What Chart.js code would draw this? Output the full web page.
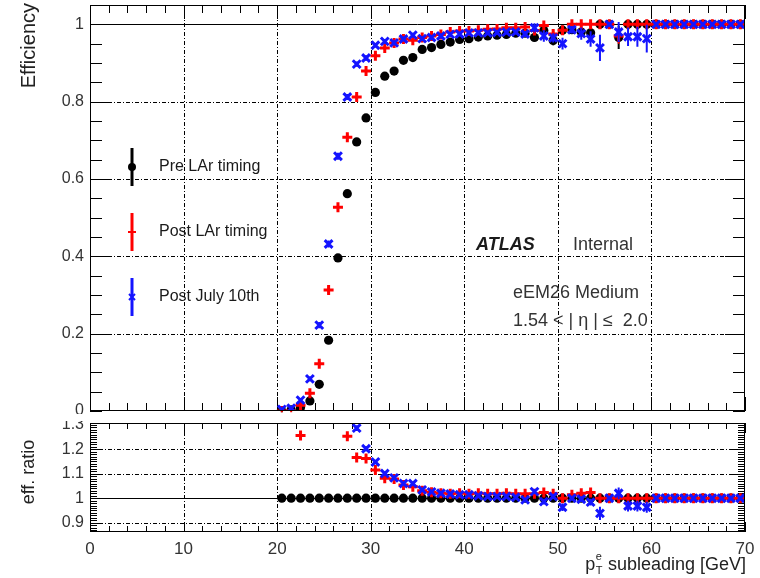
<!DOCTYPE html>
<html><head><meta charset="utf-8">
<script src="https://cdn.jsdelivr.net/npm/chart.js@4.4.0/dist/chart.umd.min.js"></script>
<style>
html,body{margin:0;padding:0;background:#fff;}
#wrap{position:relative;width:760px;height:578px;overflow:hidden;background:#fff;}
#top{position:absolute;left:0;top:0;}
#bot{position:absolute;left:0;top:421px;}
</style></head><body>
<div id="wrap"><canvas id="top" width="760" height="414" style="width:760px;height:414px"></canvas><canvas id="bot" width="760" height="157" style="width:760px;height:157px"></canvas></div>
<script>
// ---------- DATA ----------
const binCenters = [20.5,21.5,22.5,23.5,24.5,25.5,26.5,27.5,28.5,29.5,
  30.5,31.5,32.5,33.5,34.5,35.5,36.5,37.5,38.5,39.5,
  40.5,41.5,42.5,43.5,44.5,45.5,46.5,47.5,48.5,49.5,
  50.5,51.5,52.5,53.5,54.5,55.5,56.5,57.5,58.5,59.5,
  60.5,61.5,62.5,63.5,64.5,65.5,66.5,67.5,68.5,69.5];
const seriesNames = ["Pre LAr timing", "Post LAr timing", "Post July 10th"];

const effPre = [0.000,0.003,0.009,0.026,0.069,0.183,0.396,0.562,0.696,0.758,
  0.824,0.866,0.879,0.907,0.914,0.935,0.940,0.948,0.954,0.961,
  0.963,0.967,0.970,0.972,0.974,0.977,0.977,0.966,0.984,0.958,
  0.985,0.986,0.980,0.978,1.000,1.000,0.966,1.000,1.000,1.000,
  1.000,1.000,1.000,1.000,1.000,1.000,1.000,1.000,1.000,1.000];
const effPostLAr = [0.000,0.000,0.015,0.046,0.122,0.313,0.527,0.708,0.812,0.879,
  0.919,0.939,0.952,0.962,0.959,0.966,0.970,0.974,0.980,0.983,
  0.983,0.985,0.987,0.988,0.991,0.991,0.993,0.984,0.997,0.975,
  0.985,1.000,1.000,1.000,1.000,1.000,0.970,1.000,1.000,1.000,
  1.000,1.000,1.000,1.000,1.000,1.000,1.000,1.000,1.000,1.000];
const effPostJuly = [0.004,0.007,0.028,0.083,0.222,0.432,0.659,0.812,0.897,0.913,
  0.946,0.956,0.952,0.962,0.972,0.963,0.966,0.970,0.974,0.975,
  0.978,0.978,0.978,0.979,0.980,0.980,0.975,0.991,0.970,0.965,
  0.950,0.986,0.976,0.962,0.939,1.000,0.980,0.968,0.968,0.963,
  1.000,1.000,1.000,1.000,1.000,1.000,1.000,1.000,1.000,1.000];

const errPre = [0.003,0.003,0.004,0.005,0.006,0.008,0.009,0.009,0.009,0.008,
  0.007,0.007,0.007,0.006,0.006,0.006,0.006,0.006,0.006,0.006,
  0.006,0.006,0.006,0.006,0.006,0.006,0.006,0.010,0.008,0.012,
  0.008,0.008,0.008,0.010,0.006,0.006,0.030,0.006,0.006,0.006,
  0.004,0.004,0.004,0.004,0.004,0.004,0.004,0.004,0.004,0.004];
const errPostLAr = [0.003,0.003,0.004,0.005,0.007,0.009,0.009,0.009,0.008,0.007,
  0.006,0.006,0.006,0.006,0.006,0.006,0.006,0.006,0.006,0.006,
  0.006,0.006,0.006,0.006,0.006,0.006,0.006,0.008,0.006,0.010,
  0.010,0.006,0.006,0.006,0.006,0.006,0.020,0.006,0.006,0.006,
  0.004,0.004,0.004,0.004,0.004,0.004,0.004,0.004,0.004,0.004];
const errPostJuly = [0.003,0.003,0.004,0.006,0.008,0.009,0.009,0.008,0.007,0.007,
  0.006,0.006,0.006,0.006,0.006,0.006,0.006,0.006,0.006,0.006,
  0.006,0.006,0.006,0.006,0.006,0.006,0.008,0.012,0.015,0.012,
  0.015,0.010,0.016,0.020,0.034,0.006,0.026,0.024,0.026,0.036,
  0.004,0.004,0.004,0.004,0.004,0.004,0.004,0.004,0.004,0.004];

const ratioPre = [1,1,1,1,1,1,1,1,1,1, 1,1,1,1,1,1,1,1,1,1,
  1,1,1,1,1,1,1,1,1,1, 1,1,1,1,1,1,1,1,1,1, 1,1,1,1,1,1,1,1,1,1];
const ratioPostLAr = [null,null,1.256,null,null,null,null,1.253,1.166,1.162,
  1.115,1.081,1.078,1.054,1.047,1.030,1.024,1.020,1.018,1.020,
  1.018,1.020,1.018,1.018,1.020,1.018,1.018,1.018,1.023,1.018,
  1.000,1.014,1.020,1.023,1.000,1.000,1.000,1.000,1.000,1.000,
  1.000,1.000,1.000,1.000,1.000,1.000,1.000,1.000,1.000,1.000];
const ratioPostJuly = [null,null,null,null,null,null,null,null,1.286,1.202,
  1.148,1.101,1.083,1.060,1.060,1.034,1.026,1.020,1.017,1.014,
  1.014,1.010,1.007,1.007,1.007,1.004,0.993,1.027,0.986,1.007,
  0.963,1.000,0.996,0.984,0.938,1.000,1.020,0.968,0.968,0.963,
  1.000,1.000,1.000,1.000,1.000,1.000,1.000,1.000,1.000,1.000];
const ratioErrPre = [0,0,0,0,0,0,0,0,0,0, 0,0,0,0,0,0,0,0,0,0,
  0,0,0,0,0,0,0,0,0,0, 0,0,0,0,0,0,0,0,0,0, 0,0,0,0,0,0,0,0,0,0];
const ratioErrPostLAr = [0,0,0.012,0,0,0,0,0.012,0.010,0.010,
  0.008,0.007,0.007,0.006,0.006,0.005,0.005,0.005,0.005,0.005,
  0.005,0.005,0.005,0.005,0.005,0.005,0.005,0.006,0.006,0.008,
  0.008,0.006,0.006,0.006,0.006,0.006,0.010,0.006,0.006,0.006,
  0.004,0.004,0.004,0.004,0.004,0.004,0.004,0.004,0.004,0.004];
const ratioErrPostJuly = [0,0,0,0,0,0,0,0,0.012,0.010,
  0.008,0.007,0.007,0.006,0.006,0.005,0.005,0.005,0.005,0.005,
  0.005,0.005,0.005,0.005,0.005,0.005,0.008,0.010,0.012,0.010,
  0.015,0.008,0.012,0.014,0.027,0.006,0.024,0.022,0.022,0.022,
  0.004,0.004,0.004,0.004,0.004,0.004,0.004,0.004,0.004,0.004];

const xTicks = [0,10,20,30,40,50,60,70];
const effTicks = [0,0.2,0.4,0.6,0.8,1];
const ratioTicks = [0.9,1,1.1,1.2,1.3];

// ---------- STYLE ----------
const FONT = "'Liberation Sans', Arial, Helvetica, sans-serif";
const COL = ['#000000', '#ff0000', '#1414ff'];
const STYLES = [
  {pointStyle:'circle', pointRadius:4.6, borderWidth:0},
  {pointStyle:'cross', pointRadius:5, borderWidth:3},
  {pointStyle:'crossRot', pointRadius:5.5, borderWidth:3}
];

function makeDatasets(vals, errs){
  return vals.map((arr, k) => ({
    label: seriesNames[k],
    data: binCenters.map((x, i) => ({x: x, y: arr[i]})),
    errors: errs[k],
    showLine: false,
    pointStyle: STYLES[k].pointStyle,
    pointRadius: STYLES[k].pointRadius,
    pointHoverRadius: STYLES[k].pointRadius,
    pointBorderWidth: STYLES[k].borderWidth,
    pointBackgroundColor: COL[k],
    pointBorderColor: COL[k],
    borderColor: COL[k],
    backgroundColor: COL[k],
    order: 3 - k
  }));
}

const errPlugin = {
  id: 'errbars',
  beforeDatasetDraw(chart, args){
    const ds = chart.data.datasets[args.index];
    if (!ds.errors) return;
    const ctx = chart.ctx, ys = chart.scales.y, ca = chart.chartArea;
    ctx.save();
    ctx.beginPath(); ctx.rect(ca.left, ca.top - 4, ca.width, ca.height + 8); ctx.clip();
    ctx.strokeStyle = ds.borderColor; ctx.lineWidth = 2;
    ctx.beginPath();
    args.meta.data.forEach((pt, i) => {
      const d = ds.data[i];
      if (d.y === null || d.y === undefined) return;
      const e = ds.errors[i];
      if (!e) return;
      ctx.moveTo(pt.x, ys.getPixelForValue(d.y - e));
      ctx.lineTo(pt.x, ys.getPixelForValue(d.y + e));
    });
    ctx.stroke();
    ctx.restore();
  }
};

function decor(opts){
  return {
    id: 'decor',
    beforeDatasetsDraw(chart){
      const ctx = chart.ctx, ca = chart.chartArea, xs = chart.scales.x, ys = chart.scales.y;
      ctx.save();
      ctx.strokeStyle = '#000'; ctx.lineWidth = 1;
      ctx.setLineDash([4,2,1,2]);
      ctx.beginPath();
      opts.gridX.forEach(v => { const p = Math.round(xs.getPixelForValue(v)) + 0.5; ctx.moveTo(p, ca.top); ctx.lineTo(p, ca.bottom); });
      opts.gridY.forEach(v => { const p = Math.round(ys.getPixelForValue(v)) + 0.5; ctx.moveTo(ca.left, p); ctx.lineTo(ca.right, p); });
      ctx.stroke();
      ctx.setLineDash([]);
      ctx.beginPath();
      const pu = Math.round(ys.getPixelForValue(1)) + 0.5;
      ctx.moveTo(ca.left, pu); ctx.lineTo(ca.right, pu);
      for (let v = xs.min; v <= xs.max + 1e-9; v += opts.xMinor) {
        const p = Math.round(xs.getPixelForValue(v)) + 0.5;
        const L = (Math.abs(v % 10) < 1e-6) ? opts.xMajorLen : opts.xMinorLen;
        ctx.moveTo(p, ca.bottom); ctx.lineTo(p, ca.bottom - L);
        ctx.moveTo(p, ca.top); ctx.lineTo(p, ca.top + L);
      }
      const n0 = Math.ceil(ys.min / opts.yMinor - 1e-6), n1 = Math.floor(ys.max / opts.yMinor + 1e-6);
      for (let n = n0; n <= n1; n++) {
        const v = n * opts.yMinor;
        const p = Math.round(ys.getPixelForValue(v)) + 0.5;
        const isMaj = opts.gridY.concat([1]).some(g => Math.abs(g - v) < 1e-6);
        const L = isMaj ? opts.yMajorLen : opts.yMinorLen;
        ctx.moveTo(ca.left, p); ctx.lineTo(ca.left + L, p);
        ctx.moveTo(ca.right, p); ctx.lineTo(ca.right - L, p);
      }
      ctx.stroke();
      ctx.restore();
    },
    afterDatasetsDraw(chart){
      const ctx = chart.ctx, ca = chart.chartArea;
      ctx.save();
      ctx.strokeStyle = '#000'; ctx.lineWidth = 1;
      ctx.strokeRect(Math.round(ca.left) + 0.5, Math.round(ca.top) + 0.5, Math.round(ca.width) - 1, Math.round(ca.height) - 1);
      ctx.restore();
    },
    afterDraw(chart){ if (opts.text) opts.text(chart.ctx, chart); }
  };
}

function topText(ctx){
  ctx.save();
  const ly = [167, 232, 297];
  ly.forEach((y, k) => {
    ctx.strokeStyle = COL[k]; ctx.fillStyle = COL[k]; ctx.lineWidth = 3;
    ctx.beginPath(); ctx.moveTo(132, y - 19); ctx.lineTo(132, y + 19); ctx.stroke();
    ctx.lineWidth = 2;
    if (k === 0) { ctx.beginPath(); ctx.arc(132, y, 4, 0, Math.PI*2); ctx.fill(); }
    if (k === 1) { ctx.beginPath(); ctx.moveTo(128, y); ctx.lineTo(136, y); ctx.stroke(); }
    if (k === 2) { ctx.beginPath(); ctx.moveTo(129, y-3); ctx.lineTo(135, y+3); ctx.moveTo(135, y-3); ctx.lineTo(129, y+3); ctx.stroke(); }
    ctx.fillStyle = '#1a1a1a';
    ctx.font = '16px ' + FONT; ctx.textAlign = 'left'; ctx.textBaseline = 'middle';
    ctx.fillText(seriesNames[k], 159, y);
  });
  ctx.fillStyle = '#1a1a1a';
  ctx.textBaseline = 'middle';
  ctx.font = 'italic bold 18px ' + FONT;
  ctx.fillText('ATLAS', 476, 245);
  ctx.font = '18px ' + FONT;
  ctx.fillStyle = '#333';
  ctx.fillText('Internal', 573, 245);
  ctx.fillText('eEM26 Medium', 513, 293);
  ctx.fillText('1.54 < | \u03b7 | \u2264  2.0', 513, 321);
  ctx.fillStyle = '#222';
  ctx.save();
  ctx.translate(29, 3); ctx.rotate(-Math.PI/2);
  ctx.textAlign = 'right'; ctx.textBaseline = 'middle';
  ctx.font = '20px ' + FONT;
  ctx.fillText('Efficiency', 0, 0);
  ctx.restore();
  ctx.restore();
}

function botText(ctx){
  ctx.save();
  ctx.fillStyle = '#222';
  ctx.save();
  ctx.translate(29, 51); ctx.rotate(-Math.PI/2);
  ctx.textAlign = 'center'; ctx.textBaseline = 'middle';
  ctx.font = '18px ' + FONT;
  ctx.fillText('eff. ratio', 0, 0);
  ctx.restore();
  ctx.textAlign = 'left'; ctx.textBaseline = 'alphabetic';
  ctx.font = '18px ' + FONT;
  const rest = ' subleading [GeV]';
  const wRest = ctx.measureText(rest).width;
  const wp = ctx.measureText('p').width;
  ctx.font = '11px ' + FONT;
  const wSub = Math.max(ctx.measureText('T').width, ctx.measureText('e').width) + 1;
  const right = 746, base = 149;
  const x0 = right - wRest - wSub - wp;
  ctx.font = '18px ' + FONT;
  ctx.fillText('p', x0, base);
  ctx.font = '11px ' + FONT;
  ctx.fillText('e', x0 + wp + 0.5, base - 10);
  ctx.fillText('T', x0 + wp + 0.5, base + 4);
  ctx.font = '18px ' + FONT;
  ctx.fillText(rest, x0 + wp + wSub, base);
  ctx.restore();
}

const tickFontY = {family: FONT, size: 16};
const tickFontX = {family: FONT, size: 17};
function noPad(s){ s.paddingTop = 0; s.paddingBottom = 0; s.paddingLeft = 0; s.paddingRight = 0; }

new Chart(document.getElementById('top'), {
  type: 'scatter',
  data: {datasets: makeDatasets([effPre, effPostLAr, effPostJuly], [errPre, errPostLAr, errPostJuly])},
  options: {
    responsive: false, animation: false, devicePixelRatio: 1,
    layout: {autoPadding: false, padding: {left: 0, right: 15, top: 5, bottom: 3}},
    plugins: {legend: {display: false}, tooltip: {enabled: false}},
    scales: {
      x: {type: 'linear', min: 0, max: 70, display: false},
      y: {type: 'linear', min: 0, max: 1.05,
          afterBuildTicks: s => { s.ticks = effTicks.map(v => ({value: v})); },
          ticks: {font: tickFontY, color: '#333', padding: 6, callback: v => String(v)},
          grid: {display: false, drawTicks: false, tickLength: 0}, border: {display: false},
          afterFit: s => { s.width = 90; noPad(s); }}
    }
  },
  plugins: [errPlugin, decor({gridX: [10,20,30,40,50,60], gridY: [0.2,0.4,0.6,0.8],
    xMinor: 2, xMinorLen: 8, xMajorLen: 14, yMinor: 0.05, yMinorLen: 12, yMajorLen: 20, text: topText})]
});

new Chart(document.getElementById('bot'), {
  type: 'scatter',
  data: {datasets: makeDatasets([ratioPre, ratioPostLAr, ratioPostJuly], [ratioErrPre, ratioErrPostLAr, ratioErrPostJuly])},
  options: {
    responsive: false, animation: false, devicePixelRatio: 1,
    layout: {autoPadding: false, padding: {left: 0, right: 15, top: 2, bottom: 0}},
    plugins: {legend: {display: false}, tooltip: {enabled: false}},
    scales: {
      x: {type: 'linear', min: 0, max: 70,
          afterBuildTicks: s => { s.ticks = xTicks.map(v => ({value: v})); },
          ticks: {font: tickFontX, color: '#333', padding: 7, maxRotation: 0, autoSkip: false, callback: v => String(v)},
          grid: {display: false, drawTicks: false, tickLength: 0}, border: {display: false},
          afterFit: s => { s.height = 46; noPad(s); }},
      y: {type: 'linear', min: 0.862, max: 1.307,
          afterBuildTicks: s => { s.ticks = ratioTicks.map(v => ({value: v})); },
          ticks: {font: tickFontY, color: '#333', padding: 6, autoSkip: false, callback: v => String(v)},
          grid: {display: false, drawTicks: false, tickLength: 0}, border: {display: false},
          afterFit: s => { s.width = 90; noPad(s); }}
    }
  },
  plugins: [errPlugin, decor({gridX: [10,20,30,40,50,60], gridY: [0.9,1.1,1.2],
    xMinor: 2, xMinorLen: 6, xMajorLen: 10, yMinor: 0.01, yMinorLen: 7, yMajorLen: 12, text: botText})]
});
</script>
</body></html>
